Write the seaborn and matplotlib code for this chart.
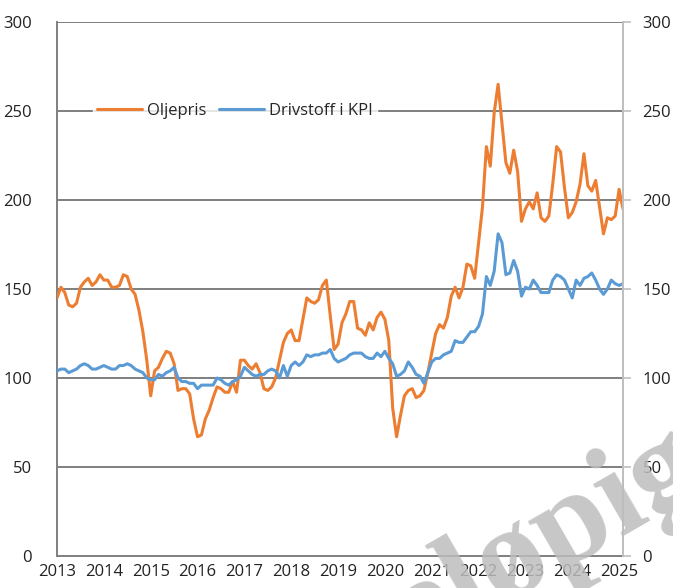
import numpy as np
import pandas as pd
import matplotlib
matplotlib.use("Agg")
import matplotlib.pyplot as plt
import seaborn as sns

# ---- data (monthly index, Jan 2013 - Feb 2025) ----
start_year = 2013
oljepris = [
    145, 151, 148, 141, 140, 142, 151, 154, 156, 152, 154, 158,   # 2013
    155, 155, 151, 151, 152, 158, 157, 150, 147, 138, 126, 110,   # 2014
    90, 104, 106, 111, 115, 114, 108, 93, 94, 94, 91, 77,         # 2015
    67, 68, 77, 82, 89, 95, 94, 92, 92, 98, 92, 110,              # 2016
    110, 107, 105, 108, 103, 94, 93, 95, 100, 110, 120, 125,      # 2017
    127, 121, 121, 133, 145, 143, 142, 144, 152, 155, 135, 116,   # 2018
    119, 131, 136, 143, 143, 128, 127, 124, 131, 127, 134, 137,   # 2019
    133, 121, 83, 67, 79, 90, 93, 94, 89, 90, 93, 103,            # 2020
    114, 125, 130, 128, 134, 146, 151, 145, 151, 164, 163, 156,   # 2021
    176, 196, 230, 219, 249, 265, 243, 221, 215, 228, 216, 188,   # 2022
    195, 199, 195, 204, 190, 188, 191, 209, 230, 227, 207, 190,   # 2023
    193, 199, 209, 226, 208, 205, 211, 196, 181, 190, 189, 191,   # 2024
    206, 195,                                                     # 2025
]
drivstoff = [
    104, 105, 105, 103, 104, 105, 107, 108, 107, 105, 105, 106,   # 2013
    107, 106, 105, 105, 107, 107, 108, 107, 105, 104, 103, 100,   # 2014
    99, 99, 102, 101, 103, 104, 106, 100, 98, 98, 97, 97,         # 2015
    94, 96, 96, 96, 96, 100, 99, 97, 96, 98, 99, 101,             # 2016
    106, 104, 102, 101, 102, 102, 104, 105, 104, 100, 107, 101,   # 2017
    107, 109, 107, 109, 113, 112, 113, 113, 114, 114, 116, 111,   # 2018
    109, 110, 111, 113, 114, 114, 114, 112, 111, 111, 114, 112,   # 2019
    115, 111, 108, 101, 102, 104, 109, 106, 102, 101, 97, 103,    # 2020
    109, 111, 111, 113, 114, 115, 121, 120, 120, 123, 126, 126,   # 2021
    129, 136, 157, 152, 160, 181, 176, 158, 159, 166, 160, 146,   # 2022
    151, 150, 155, 152, 148, 148, 148, 155, 158, 157, 155, 150,   # 2023
    145, 155, 152, 156, 157, 159, 155, 150, 147, 150, 155, 153,   # 2024
    152, 153,                                                     # 2025
]
series_names = ["Oljepris", "Drivstoff i KPI"]
series_colors = ["#ED7D31", "#5B9BD5"]
year_labels = [str(y) for y in range(2013, 2026)]
y_ticks = [0, 50, 100, 150, 200, 250, 300]

n = len(oljepris)
xs = [start_year + i / 12 for i in range(n)]
df = pd.DataFrame({
    "x": xs + xs,
    "verdi": oljepris + drivstoff,
    "serie": [series_names[0]] * n + [series_names[1]] * n,
})

sns.set_theme(style="white")
plt.rcParams["font.family"] = ["Open Sans", "DejaVu Sans"]

fig = plt.figure(figsize=(6.73, 5.88), dpi=100)
ax = fig.add_axes([57 / 673, 1 - 556 / 588, (623 - 57) / 673, (556 - 22) / 588])

sns.lineplot(data=df, x="x", y="verdi", hue="serie", hue_order=series_names,
             palette=dict(zip(series_names, series_colors)), linewidth=2.2,
             ax=ax, legend=True, zorder=3)

ax.set_xlim(start_year, xs[-1])
ax.set_ylim(0, 300)
ax.set_xlabel("")
ax.set_ylabel("")
ax.set_yticks(y_ticks)
ax.set_yticklabels([str(v) for v in y_ticks])
ax.set_xticks([int(l) for l in year_labels])
ax.set_xticklabels(year_labels)
for v in y_ticks[1:]:
    ax.axhline(v, color="#7f7f7f", lw=1.4, zorder=1)

gray = "#7f7f7f"
ax.spines["top"].set_visible(False)
ax.spines["right"].set_color("#bfbfbf")
ax.spines["right"].set_linewidth(1.4)
ax.spines["left"].set_color(gray)
ax.spines["left"].set_linewidth(1.4)
ax.spines["bottom"].set_color(gray)
ax.spines["bottom"].set_linewidth(1.4)
ax.tick_params(axis="x", direction="in", length=5, width=1, color=gray,
               labelsize=12, pad=6, labelcolor="#222222")
ax.tick_params(axis="y", direction="out", length=0, labelsize=12, pad=18,
               labelcolor="#222222")

ax2 = ax.twinx()
ax2.set_ylim(0, 300)
ax2.set_yticks(y_ticks)
ax2.set_yticklabels([str(v) for v in y_ticks])
ax2.tick_params(axis="y", direction="out", length=6, width=1.2, color="#bfbfbf",
                labelsize=12, pad=8, labelcolor="#222222")
for s in ["top", "left", "bottom"]:
    ax2.spines[s].set_visible(False)
ax2.spines["right"].set_color("#bfbfbf")
ax2.spines["right"].set_linewidth(1.4)

leg = ax.legend(loc="center", bbox_to_anchor=(235 / 673 * 673 / 566 - 57 / 566, (556 - 111) / 534),
                ncol=2, frameon=True, fontsize=12, handlelength=2.7,
                columnspacing=0.8, handletextpad=0.3, borderpad=0.2)
leg.get_frame().set_facecolor("white")
leg.get_frame().set_edgecolor("white")
for h in leg.get_lines():
    h.set_linewidth(2.2)

fig.text(0.684, -0.008, "Foreløpig", fontsize=95, fontweight="bold",
         family=["Liberation Serif", "DejaVu Serif"],
         color="#bdbdbd", alpha=0.85, rotation=30, ha="center", va="center", zorder=10)

fig.savefig("out.png", dpi=100)
